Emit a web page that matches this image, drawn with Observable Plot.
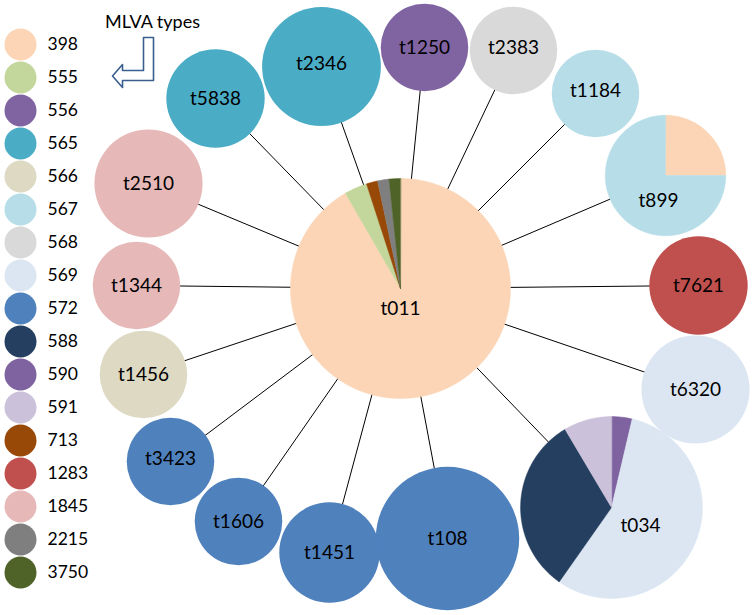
<!DOCTYPE html>
<html><head><meta charset="utf-8">
<script src="https://cdn.jsdelivr.net/npm/d3@7"></script>
<script src="https://cdn.jsdelivr.net/npm/@observablehq/plot@0.6"></script>
<style>
html,body{margin:0;padding:0;background:#fff;}
#chart{position:relative;width:754px;height:615px;overflow:hidden;font-family:Lato,"Open Sans",sans-serif;}
#chart svg{position:absolute;left:0;top:0;}
</style></head><body><div id="chart"></div>
<script>
// ---- data ----
const mlvaTypes  = ["398","555","556","565","566","567","568","569","572","588","590","591","713","1283","1845","2215","3750"];
const mlvaColors = ["#FBD5B5","#C3D69B","#8064A2","#4BACC6","#DDD9C3","#B7DEE8","#D9D9D9","#DCE6F2","#4F81BD","#243F60","#7F63A1","#CCC1DA","#984807","#C0504D","#E6B9B8","#7F7F7F","#4F6228"];

const spaTypes = ["t011","t5838","t2346","t1250","t2383","t1184","t899","t7621","t6320","t034","t108","t1451","t1606","t3423","t1456","t1344","t2510"];
// isolates per MLVA type, clockwise from 12 o'clock
const spaComposition = [
  [["398",110],["555",4],["713",2],["2215",2],["3750",2]],
  [["565",24]],
  [["565",35]],
  [["556",19]],
  [["568",19]],
  [["567",19]],
  [["398",9],["567",27]],
  [["1283",24]],
  [["569",29]],
  [["590",3],["569",46],["588",26],["591",7]],
  [["572",51]],
  [["572",25]],
  [["572",19]],
  [["572",19]],
  [["566",19]],
  [["1845",19]],
  [["1845",29]]
];
const hubSpa = "t011";
const legendTitle = "MLVA types";

// ---- layout (pixel space) ----
const layoutX = [400,215,321,424,513,595,665,698,695,611,447,329,238,170,143,136,148];
const layoutY = [288, 98, 66, 47, 50, 93,175,285,389,507,538,552,521,461,374,285,183];
const labelDx = [0,0,0,0,0,0,-7,0,0,29,0,0,0,0,0,0,0];
const labelDy = [20,0,-3,0,-3,-3,25,0,0,18,0,0,0,-3,0,0,0];
const W = 754, H = 615;

// ---- build tables ----
const rDef = {type: "sqrt", domain: [0, 120], range: [0, 110]};
const rScale = Plot.scale({r: rDef});
const nodes = spaTypes.map((name, i) => ({
  name, x: layoutX[i], y: layoutY[i], ldx: labelDx[i], ldy: labelDy[i],
  comp: spaComposition[i],
  count: d3.sum(spaComposition[i], d => d[1]),
  type: spaComposition[i][0][0]
}));
const hub = nodes.find(n => n.name === hubSpa);
const leaves = nodes.filter(n => n !== hub);
const singles = nodes.filter(n => n.comp.length === 1);
const multis = nodes.filter(n => n.comp.length > 1);

const pie = d3.pie().sort(null).value(d => d[1]);
const slicePts = [];
for (const n of multis) {
  const R = rScale.apply(n.count);
  for (const s of pie(n.comp)) {
    const key = n.name + "-" + s.data[0];
    slicePts.push({key, type: s.data[0], x: n.x, y: n.y});
    const steps = Math.max(2, Math.ceil((s.endAngle - s.startAngle) / (Math.PI / 180)));
    for (let k = 0; k <= steps; k++) {
      const a = s.startAngle + (s.endAngle - s.startAngle) * k / steps;
      slicePts.push({key, type: s.data[0], x: n.x + R * Math.sin(a), y: n.y - R * Math.cos(a)});
    }
  }
}

// annotation arrow shape (relative to its anchor)
const arrowAnchor = {x: 148, y: 37};
const arrowShape = [[-5,0],[5,0],[5,43],[-26,43],[-26,50],[-36,38.5],[-26,27],[-26,33],[-5,33]];
const arrowPts = arrowShape.map(([dx, dy]) => ({x: arrowAnchor.x + dx, y: arrowAnchor.y + dy}));

const colorDef = {domain: mlvaTypes, range: mlvaColors};

const network = Plot.plot({
  width: W, height: H, margin: 0,
  style: {background: "transparent", fontFamily: "Lato, 'Open Sans', sans-serif"},
  x: {domain: [0, W], range: [0, W], axis: null},
  y: {domain: [0, H], range: [0, H], axis: null},
  r: rDef,
  color: colorDef,
  marks: [
    Plot.link(leaves, {x1: () => hub.x, y1: () => hub.y, x2: "x", y2: "y", stroke: "#000", strokeWidth: 1}),
    Plot.dot(singles, {x: "x", y: "y", r: "count", fill: "type", stroke: "none"}),
    Plot.line(slicePts, {x: "x", y: "y", z: "key", fill: "type", stroke: "type", strokeWidth: 0.5, curve: "linear-closed"}),
    ...nodes.map(n => Plot.text([n], {x: "x", y: "y", dx: n.ldx, dy: n.ldy, text: "name", fontSize: 19, fill: "#000"})),
    Plot.line(arrowPts, {x: "x", y: "y", curve: "linear-closed", fill: "#fff", stroke: "#3A5F8F", strokeWidth: 1.6}),
    Plot.text([legendTitle], {x: () => 152, y: () => 22, text: d => d, fontSize: 18, fill: "#000"})
  ]
});

const legend = Plot.plot({
  width: 100, height: H, margin: 0,
  style: {background: "transparent", fontFamily: "Lato, 'Open Sans', sans-serif"},
  y: {type: "point", domain: mlvaTypes, range: [22, 593], axis: null},
  color: colorDef,
  marks: [
    Plot.dot(mlvaTypes, {y: d => d, fill: d => d, r: 16, frameAnchor: "left", dx: 20}),
    Plot.text(mlvaTypes, {y: d => d, text: d => d, frameAnchor: "left", dx: 47, textAnchor: "start", fontSize: 17.5, fill: "#000"})
  ]
});

const root = document.getElementById("chart");
root.appendChild(network);
root.appendChild(legend);
</script></body></html>
